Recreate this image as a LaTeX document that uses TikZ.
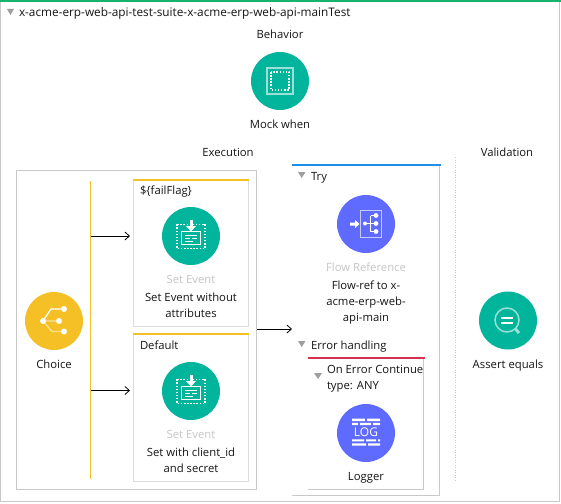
\documentclass[tikz,border=0pt]{standalone}
\usepackage{fontspec}
\setmainfont{Open Sans}
\usetikzlibrary{arrows.meta}
\definecolor{teal}{HTML}{00B59C}
\definecolor{ltteal}{HTML}{99E1D7}
\definecolor{indigo}{HTML}{5F6BFF}
\definecolor{ltindigo}{HTML}{C5CAFF}
\definecolor{amber}{HTML}{F4C025}
\definecolor{ltamber}{HTML}{FAE19A}
\definecolor{barblue}{HTML}{1E8FEA}
\definecolor{barred}{HTML}{D6304F}
\definecolor{bargreen}{HTML}{17B26B}
\definecolor{frame}{HTML}{C9C9C9}
\definecolor{boxline}{HTML}{DCDCDC}
\definecolor{muted}{HTML}{C6C6C6}
\definecolor{ink}{HTML}{151515}
\tikzset{
  x=1pt,y=-1pt,
  every node/.style={font=\fontsize{11.3}{14}\selectfont,text=ink,inner sep=0pt,outer sep=0pt},
  lbl/.style={anchor=base,align=center},
  lft/.style={anchor=base west},
  mutedlbl/.style={lbl,text=muted},
  bubble/.style={circle,minimum size=58pt},
  tealb/.style={bubble,fill=teal},
  indigob/.style={bubble,fill=indigo},
  amberb/.style={bubble,fill=amber},
  framebox/.style={draw=frame,line width=1pt},
  branchbox/.style={draw=boxline,line width=1pt},
  amberbar/.style={draw=amber,line width=2pt},
  flowarrow/.style={draw=black,line width=0.9pt,-{Straight Barb[length=4.5pt,width=8pt,line width=0.8pt]}},
  caret/.style={fill=gray!75,draw=none},
  icw/.style={draw=white,line width=1pt},
  dotw/.style={draw=white,line width=1.5pt,dash pattern=on 1.5pt off 1.6pt},
}
\newcommand{\seticon}[1]{%
  \begin{scope}[shift={(#1)}]
    \draw[dotw] (-14,-11.7) rectangle (14,12.3);
    \draw[fill=teal,icw] (-9.5,-4.5) rectangle (9.5,8.5);
    \fill[white] (-1.5,-16) rectangle (1.5,-10);
    \fill[white] (-5,-10) -- (5,-10) -- (0,-4.5) -- cycle;
    \draw[white,line width=0.9pt] (-6,-0.5)--(6,-0.5) (-6,2.5)--(-1,2.5) (1,2.5)--(6,2.5) (-6,5.5)--(2,5.5);
  \end{scope}}
\begin{document}
\begin{tikzpicture}
\useasboundingbox (0,0) rectangle (561,503);
\fill[white] (0,0) rectangle (561,503);
% outer frame
\draw[framebox] (0.5,2) -- (0.5,501.5) -- (559.5,501.5) -- (559.5,2);
\fill[bargreen] (0,0) rectangle (561,2.2);
\fill[caret] (7,9) -- (14,9) -- (10.5,15) -- cycle;
\node[lft,font=\fontsize{11.8}{14}\selectfont] (title) at (19,17) {x-acme-erp-web-api-test-suite-x-acme-erp-web-api-mainTest};
% behaviour
\node[lbl] (behav) at (280,39) {Behavior};
\node[tealb] (mock) at (280,81) {};
\draw[ltteal,line width=1.6pt] (267,68) rectangle (293,94);
\draw[dotw] (271,72) rectangle (289,90);
\node[lbl] (mockl) at (280,128) {Mock when};
% section heads
\node[lbl] (exec) at (228,156) {Execution};
\node[lbl] (valid) at (507,156) {Validation};
% execution frame
\draw[framebox] (16.5,170.5) rectangle (256.5,489.5);
\draw[amber,line width=1pt] (90.5,181) -- (90.5,479);
\coordinate (rail1) at (91,236);
\coordinate (rail2) at (91,390.5);
% choice
\node[amberb] (choice) at (54,321) {};
\draw[ltamber,line width=1.3pt] (43,321)--(59,321) (43,321)--(52,331.5)--(64,331.5);
\draw[white,line width=1.3pt] (43,321)--(51,309)--(64,309);
\fill[white] (43,321) circle (3) (59,321) circle (3) (64,309) circle (3) (64,331.5) circle (3);
\node[lbl] (choicel) at (54,368) {Choice};
% branch 1
\draw[branchbox] (133.5,179) rectangle (248.5,326.5);
\draw[amberbar] (133,180) -- (249,180);
\node[lft] (flag) at (140,194) {\$\{failFlag\}};
\node[tealb] (se1) at (191,236) {};
\seticon{191,236}
\node[mutedlbl] (se1t) at (191,283) {Set Event};
\node[lbl] (se1a) at (191,301) {Set Event without};
\node[lbl] (se1b) at (191,317) {attributes};
\node[inner sep=0pt,minimum size=0pt] (b1w) at (130,236) {};
\draw[flowarrow] (rail1) -- (b1w);
% branch 2
\draw[branchbox] (133.5,334) rectangle (248.5,481);
\draw[amberbar] (133,334) -- (249,334);
\node[lft] (deflt) at (140,349) {Default};
\node[tealb] (se2) at (191,391) {};
\seticon{191,391}
\node[mutedlbl] (se2t) at (191,438) {Set Event};
\node[lbl] (se2a) at (191,456) {Set with client\_id};
\node[lbl] (se2b) at (191,472) {and secret};
\node[inner sep=0pt,minimum size=0pt] (b2w) at (130,390.5) {};
\draw[flowarrow] (rail2) -- (b2w);
% link to try
\coordinate (execout) at (257,329);
\coordinate (tryin) at (292,329);
\draw[flowarrow] (execout) -- (tryin);
% try scope
\draw[framebox] (439.5,165) -- (439.5,495.5) -- (292,495.5);
\fill[barblue] (292,164) rectangle (441,166);
\fill[caret] (298,172) -- (305.5,172) -- (301.7,178) -- cycle;
\node[lft] (tryl) at (311,180) {Try};
\node[indigob] (fref) at (366,224) {};
\draw[ltindigo,line width=0.8pt] (360.5,210.5) rectangle (381,237.5);
\fill[white] (350,222.5) rectangle (355,225.5) (355,220) -- (359.5,224) -- (355,228) -- cycle;
\draw[white,line width=0.9pt] (365,223.5)--(376,223.5) (370.5,215.5)--(370.5,231.5) (370.5,215.5)--(376,215.5) (370.5,231.5)--(376,231.5);
\fill[white] (365,223.5) circle (2) (376,215.5) circle (2.4) (376,223.5) circle (2.4) (376,231.5) circle (2.4);
\node[mutedlbl] (frt) at (366,271) {Flow Reference};
\node[lbl] (fra) at (366,289) {Flow-ref to x-};
\node[lbl] (frb) at (366,305) {acme-erp-web-};
\node[lbl] (frc) at (366,321) {api-main};
% error handling
\fill[caret] (298,341) -- (305.5,341) -- (301.7,347) -- cycle;
\node[lft] (errl) at (311,349) {Error handling};
\draw[framebox] (423.5,358) -- (423.5,489.5) -- (308,489.5);
\fill[barred] (308,357) rectangle (425,359);
\fill[caret] (314,373) -- (322,373) -- (318,379) -- cycle;
\node[lft] (oec) at (327,373) {On Error Continue};
\node[lft] (oet) at (327,389) {type: ANY};
\node[indigob] (logger) at (366,433) {};
\fill[white] (352,418.7) rectangle (365,421) (367,418.7) rectangle (380,421)
  (352,422.8) rectangle (358,425) (360,422.8) rectangle (371,425) (373,422.8) rectangle (380,425)
  (352,439.3) rectangle (364,441.3) (366,439.3) rectangle (376,441.3) (378,439.3) rectangle (380,441.3)
  (352,443.3) rectangle (366,445.6) (368,443.3) rectangle (380,445.6);
\node[text=white,anchor=center,font=\fontsize{12}{13}\selectfont] (logt) at (366,432) {LOG};
\node[lbl] (loggerl) at (366,480) {Logger};
% validation
\draw[frame,line width=1pt,dash pattern=on 1pt off 1.5pt] (455.5,157) -- (455.5,482);
\node[tealb] (assert) at (508,320.5) {};
\draw[ltteal,line width=1.5pt] (507,320) circle (12);
\draw[ltteal,line width=3pt] (515.5,329) -- (519,333);
\draw[white,line width=1.6pt] (501,318)--(513,318) (501,323)--(513,323);
\node[lbl] (assertl) at (508,368) {Assert equals};
\end{tikzpicture}
\end{document}
